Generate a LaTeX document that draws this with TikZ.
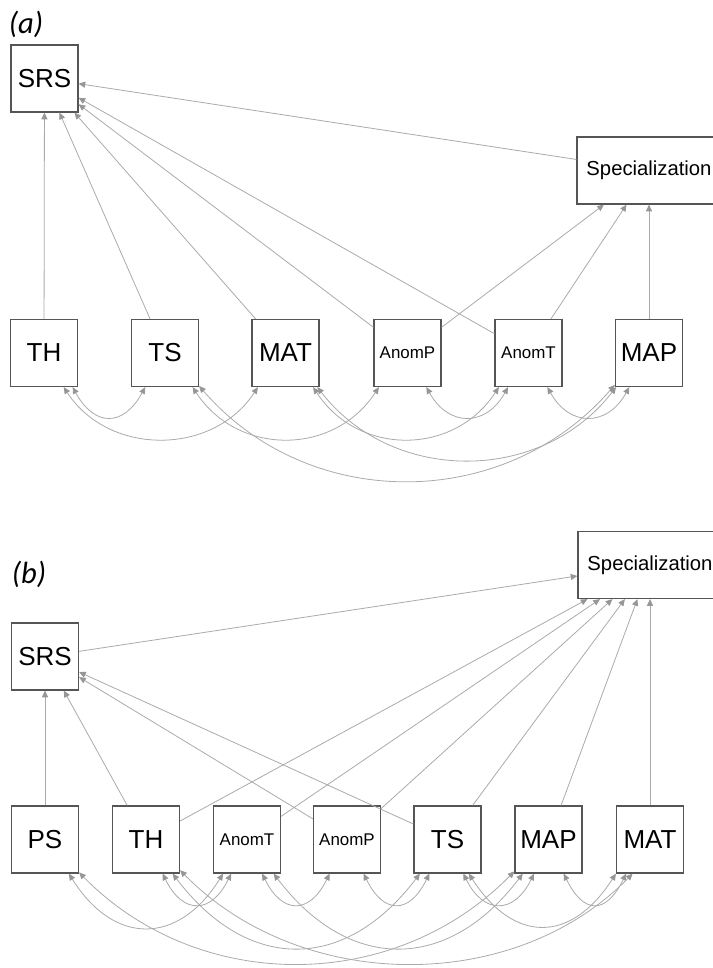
\documentclass[tikz,border=0pt]{standalone}
\usepackage{fontspec}
\setmainfont{Liberation Sans}
\newfontfamily\panelfont{Carlito}
\usetikzlibrary{arrows.meta}
\definecolor{BoxGray}{RGB}{85,85,85}
\definecolor{EdgeGray}{RGB}{170,170,170}
\definecolor{TipGray}{RGB}{150,150,150}

\begin{document}
\begin{tikzpicture}[x=0.75pt,y=0.75pt,
  var/.style={draw=BoxGray,line width=0.9pt,fill=white,minimum size=50.25pt,inner sep=0pt,
    font=\fontsize{19.5}{22}\selectfont},
  smallvar/.style={var,font=\fontsize{12.7}{15}\selectfont},
  widevar/.style={var,minimum width=108pt,font=\fontsize{15.2}{18}\selectfont},
  reg/.style={EdgeGray,line width=0.6pt,-{Triangle[length=5pt,width=4.5pt,color=TipGray]}},
  cov/.style={EdgeGray,line width=0.6pt,
    {Triangle[length=5pt,width=4.5pt,color=TipGray]}-{Triangle[length=5pt,width=4.5pt,color=TipGray]}},
  panel/.style={font=\panelfont\itshape\fontsize{23}{26}\selectfont,inner sep=0pt}]
\useasboundingbox (0,0) rectangle (713,-968);

% (a)
\node[panel] (alab) at (26,-24) {(a)};
\node[var] (aSRS) at (44.5,-78.5) {SRS};
\node[widevar] (aSpec) at (649,-170.5) {Specialization};
\foreach \nm/\st/\xx in {TH/var/44,TS/var/165,MAT/var/285.5,AnomP/smallvar/407.5,AnomT/smallvar/528.5,MAP/var/649}
  \node[\st] (a\nm) at (\xx,-353) {\nm};

\foreach \nm in {TH,TS,MAT,AnomP,AnomT} \draw[reg] (a\nm) -- (aSRS);
\draw[reg] (aSpec) -- (aSRS);
\foreach \nm in {AnomP,AnomT,MAP} \draw[reg] (a\nm) -- (aSpec);

\draw[cov] (aTH.-50) .. controls +(22,-40) and +(-22,-40) .. (aTS.-120);
\draw[cov] (aTH.-60) .. controls +(45,-69) and +(-45,-69) .. (aMAT.-129);
\draw[cov] (aTS.-51) .. controls +(45,-69) and +(-45,-69) .. (aAnomP.-130);
\draw[cov] (aTS.-44) .. controls +(110,-127) and +(-110,-127) .. (aMAP.-137);
\draw[cov] (aMAT.-51) .. controls +(45,-69) and +(-45,-69) .. (aAnomT.-131);
\draw[cov] (aMAT.-47) .. controls +(75,-97) and +(-75,-97) .. (aMAP.-134);
\draw[cov] (aAnomP.-61) .. controls +(22,-40) and +(-22,-40) .. (aAnomT.-121);
\draw[cov] (aAnomT.-61) .. controls +(22,-40) and +(-22,-40) .. (aMAP.-120);

% (b)
\node[panel] (blab) at (29,-574) {(b)};
\node[var] (bSRS) at (45,-656.5) {SRS};
\node[widevar] (bSpec) at (650,-565) {Specialization};
\foreach \nm/\st/\xx in {PS/var/45,TH/var/146,AnomT/smallvar/247,AnomP/smallvar/347,TS/var/447.5,MAP/var/548.5,MAT/var/650}
  \node[\st] (b\nm) at (\xx,-839.5) {\nm};

\foreach \nm in {PS,TH,AnomP,TS} \draw[reg] (b\nm) -- (bSRS);
\draw[reg] (bSRS) -- (bSpec);
\foreach \nm in {TH,AnomT,AnomP,TS,MAP,MAT} \draw[reg] (b\nm) -- (bSpec);

\draw[cov] (bPS.-55) .. controls +(45,-72) and +(-45,-72) .. (bAnomT.-125);
\draw[cov] (bPS.-44) .. controls +(120,-122) and +(-120,-122) .. (bMAP.-137);
\draw[cov] (bTH.-64) .. controls +(20,-41) and +(-20,-41) .. (bAnomT.-115);
\draw[cov] (bTH.-52) .. controls +(75,-99) and +(-75,-99) .. (bTS.-129);
\draw[cov] (bTH.-42) .. controls +(120,-122) and +(-120,-122) .. (bMAT.-117);
\draw[cov] (bAnomT.-66) .. controls +(20,-41) and +(-20,-41) .. (bAnomP.-117);
\draw[cov] (bAnomT.-52) .. controls +(75,-99) and +(-75,-99) .. (bMAP.-127);
\draw[cov] (bAnomP.-64) .. controls +(20,-41) and +(-20,-41) .. (bTS.-118);
\draw[cov] (bTS.-65) .. controls +(20,-41) and +(-20,-41) .. (bMAP.-113);
\draw[cov] (bTS.-58) .. controls +(45,-70) and +(-45,-70) .. (bMAT.-135);
\draw[cov] (bMAP.-66) .. controls +(20,-41) and +(-20,-41) .. (bMAT.-125);
\end{tikzpicture}
\end{document}
